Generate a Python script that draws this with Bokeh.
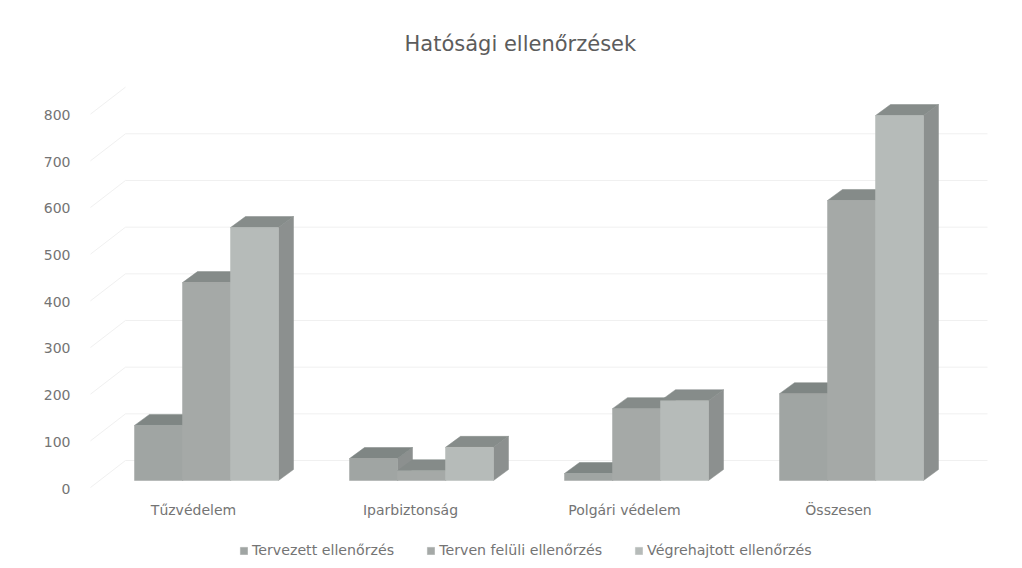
from bokeh.plotting import figure
from bokeh.models import Range1d, LinearAxis, FixedTicker, Legend, LegendItem
from bokeh.core.properties import value
from bokeh.embed import file_html
from bokeh.resources import INLINE

categories = ["Tűzvédelem", "Iparbiztonság", "Polgári védelem", "Összesen"]
series_names = ["Tervezett ellenőrzés", "Terven felüli ellenőrzés", "Végrehajtott ellenőrzés"]
tervezett = [118, 47, 15, 186]
terven_feluli = [424, 21, 154, 600]
vegrehajtott = [542, 71, 171, 782]
y_ticks = [0, 100, 200, 300, 400, 500, 600, 700, 800]
title_text = "Hatósági ellenőrzések"

series = [tervezett, terven_feluli, vegrehajtott]

# layout constants (picture pixels -> data units)
PX_PER_CAT = 215.0
PX_PER_UNIT = 0.4667
FRAME_L, FRAME_R, FRAME_T, FRAME_B = 80, 1014, 62, 562
ORIGIN_X, ORIGIN_Y = 134, 480
def dx(px): return px / PX_PER_CAT
def dy(px): return px / PX_PER_UNIT

bar_w = dx(48)
depth_x, depth_y = dx(15), dy(11)
label_xs = [dx(193 - ORIGIN_X), dx(410 - ORIGIN_X), dx(624 - ORIGIN_X), dx(838 - ORIGIN_X)]

FONT = "DejaVu Sans"
TEXT = "#747474"
front_colors = ["#a0a5a3", "#a5a9a7", "#b6bbb9"]
top_colors = ["#7f8684", "#858b89", "#868c8a"]
side_color = "#8c908f"

p = figure(width=FRAME_R, height=FRAME_B, output_backend="svg", toolbar_location=None,
           x_range=Range1d(dx(FRAME_L - ORIGIN_X), dx(FRAME_R - ORIGIN_X)),
           y_range=Range1d(dy(ORIGIN_Y - FRAME_B), dy(ORIGIN_Y - FRAME_T)),
           x_axis_type=None, y_axis_type=None,
           min_border_left=FRAME_L, min_border_right=0,
           min_border_top=FRAME_T, min_border_bottom=0)
p.outline_line_color = None
p.grid.visible = False
p.background_fill_color = "#ffffff"

# title
p.title.text = title_text
p.title.text_font = FONT
p.title.text_font_size = "21px"
p.title.text_font_style = "normal"
p.title.text_color = "#5c5c5c"
p.title.align = "left"
p.title.offset = 404 - FRAME_L
p.title.standoff = 14

# value axis: labels sit a little below the front plane of the bars
shift = dy(8)
p.extra_y_ranges["labels"] = Range1d(p.y_range.start + shift, p.y_range.end + shift)
ya = LinearAxis(y_range_name="labels", ticker=FixedTicker(ticks=y_ticks))
ya.axis_line_color = None
ya.major_tick_line_color = None
ya.minor_tick_line_color = None
ya.major_label_text_font = FONT
ya.major_label_text_font_size = "14px"
ya.major_label_text_color = TEXT
ya.major_label_standoff = 4
p.add_layout(ya, "left")

# back wall gridlines and side-wall diagonals
wall_x0, wall_x1, side_x0 = dx(125 - ORIGIN_X), dx(987 - ORIGIN_X), dx(90 - ORIGIN_X)
wall_rise, side_drop = dy(20), dy(7)
p.multi_line([[wall_x0, wall_x1] for _ in y_ticks[:-1]],
             [[t + wall_rise, t + wall_rise] for t in y_ticks[:-1]],
             line_color="#f0f0f0", line_width=1)
p.multi_line([[side_x0, wall_x0] for _ in y_ticks],
             [[t - side_drop, t + wall_rise] for t in y_ticks],
             line_color="#f0f0f0", line_width=1)

# 3D bars, drawn left to right so later bars cover earlier sides
front_renderers = [None, None, None]
for cat_i in range(len(categories)):
    for s_i, vals in enumerate(series):
        left = cat_i + s_i * bar_w
        right = left + bar_w
        v = vals[cat_i]
        p.patch([right, right + depth_x, right + depth_x, right],
                [0, depth_y, v + depth_y, v], fill_color=side_color, line_color=side_color, line_width=0.5)
        p.patch([left, left + depth_x, right + depth_x, right],
                [v, v + depth_y, v + depth_y, v], fill_color=top_colors[s_i], line_color=top_colors[s_i], line_width=0.5)
        r = p.quad(left=[left], right=[right], bottom=[0], top=[v],
                   fill_color=front_colors[s_i], line_color=front_colors[s_i], line_width=0.5)
        if front_renderers[s_i] is None:
            front_renderers[s_i] = r

# category labels
p.text(x=label_xs, y=[dy(-29)] * len(categories), text=categories,
       text_font=value(FONT), text_font_size="14px", text_color=TEXT,
       text_align="center", text_baseline="middle")

legend = Legend(items=[LegendItem(label=n, renderers=[r]) for n, r in zip(series_names, front_renderers)],
                orientation="horizontal", location=(239 - FRAME_L, 4),
                background_fill_alpha=0, border_line_color=None,
                glyph_width=9, glyph_height=9, label_standoff=4, spacing=32,
                padding=0, margin=0,
                label_text_font=FONT, label_text_font_size="14.2px",
                label_text_color=TEXT)
p.add_layout(legend, "center")

open("out.html", "w").write(file_html(p, INLINE))
